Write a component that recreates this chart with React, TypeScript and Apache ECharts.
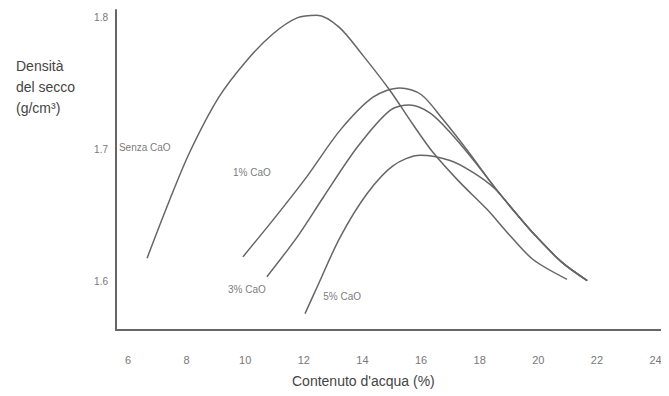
import React, { useEffect, useRef } from "react";
import * as echarts from "echarts";

// Water content (%) vs dry density (g/cm³)
const senzaCaO: [number, number][] = [
  [6.65, 1.618], [7.4, 1.661], [8.12, 1.699], [9.1, 1.740], [10.06, 1.768],
  [10.95, 1.788], [11.77, 1.800], [12.45, 1.802], [13.2, 1.793], [14.0, 1.772],
  [14.94, 1.745], [15.7, 1.720], [16.41, 1.698], [17.3, 1.676], [18.25, 1.655],
  [19.0, 1.636], [19.82, 1.617], [20.98, 1.602],
];
const cao1: [number, number][] = [
  [9.92, 1.619], [10.95, 1.647], [12.11, 1.680], [13.24, 1.715], [14.36, 1.740],
  [15.28, 1.747], [16.0, 1.742], [16.75, 1.723], [17.6, 1.699], [18.5, 1.672],
  [19.2, 1.653], [19.82, 1.637], [20.8, 1.615], [21.67, 1.601],
];
const cao3: [number, number][] = [
  [10.74, 1.604], [11.77, 1.634], [12.66, 1.664], [13.82, 1.702], [14.94, 1.730],
  [15.6, 1.734], [16.3, 1.728], [17.0, 1.713], [17.8, 1.692], [18.5, 1.672],
  [19.2, 1.653], [19.82, 1.637], [20.8, 1.615], [21.67, 1.601],
];
const cao5: [number, number][] = [
  [12.04, 1.576], [12.45, 1.596], [13.24, 1.634], [14.16, 1.667], [15.04, 1.688],
  [15.97, 1.696], [16.99, 1.692], [17.77, 1.683], [18.5, 1.671], [19.2, 1.653],
  [19.82, 1.637], [20.8, 1.615], [21.67, 1.601],
];

const seriesNames = ["Senza CaO", "1% CaO", "3% CaO", "5% CaO"];
const labelPositions: [number, number][] = [
  [5.69, 1.7015], [9.58, 1.6826], [9.41, 1.594], [12.66, 1.5886],
];
const xTicks = [6, 8, 10, 12, 14, 16, 18, 20, 22, 24];
const yTicks = [1.6, 1.7, 1.8];
const yTitleLines = ["Densità", "del secco", "(g/cm³)"];
const xTitle = "Contenuto d'acqua (%)";

const FONT = "'Liberation Sans', Arial, sans-serif";
const LINE = "#666";

export default function App() {
  const ref = useRef<HTMLDivElement>(null);
  useEffect(() => {
    if (!ref.current) return;
    const chart = echarts.init(ref.current, undefined, { renderer: "svg" });
    const curves = [senzaCaO, cao1, cao3, cao5];
    chart.setOption({
      animation: false,
      backgroundColor: "#fff",
      grid: { left: 116, right: 0, top: 10, bottom: 66 },
      xAxis: {
        type: "value",
        min: 5.59,
        max: 24.46,
        axisLine: { show: true, lineStyle: { color: LINE, width: 2 } },
        axisTick: { show: false },
        splitLine: { show: false },
        axisLabel: {
          customValues: xTicks,
          color: "#777",
          fontSize: 11,
          fontFamily: FONT,
          margin: 24,
        },
      },
      yAxis: {
        type: "value",
        min: 1.5636,
        max: 1.806,
        axisLine: { show: true, lineStyle: { color: LINE, width: 2 } },
        axisTick: { show: false },
        splitLine: { show: false },
        axisLabel: {
          customValues: yTicks,
          color: "#777",
          fontSize: 10,
          fontFamily: FONT,
          margin: 8,
          formatter: (v: number) => v.toFixed(1),
        },
      },
      graphic: [
        {
          type: "text",
          left: 16,
          top: 55,
          style: {
            text: yTitleLines.join("\n"),
            fill: "#444",
            font: `14px ${FONT}`,
            lineHeight: 21,
          },
        },
        {
          type: "text",
          left: 292,
          top: 374,
          style: { text: xTitle, fill: "#444", font: `14px ${FONT}` },
        },
      ],
      series: [
        ...curves.map((d, i) => ({
          type: "line",
          name: seriesNames[i],
          data: d,
          smooth: 0.3,
          showSymbol: false,
          lineStyle: { color: LINE, width: 1.5 },
          z: 2,
        })),
        {
          type: "scatter",
          symbolSize: 0,
          data: labelPositions.map((p, i) => ({ value: p, name: seriesNames[i] })),
          label: {
            show: true,
            position: "right",
            distance: 0,
            formatter: (p: any) => p.name,
            color: "#555",
            fontSize: 10,
            fontFamily: FONT,
          },
          z: 3,
        },
      ],
    });
    return () => chart.dispose();
  }, []);
  return <div ref={ref} style={{ width: 669, height: 396, marginLeft: -8, marginTop: -8 }} />;
}
